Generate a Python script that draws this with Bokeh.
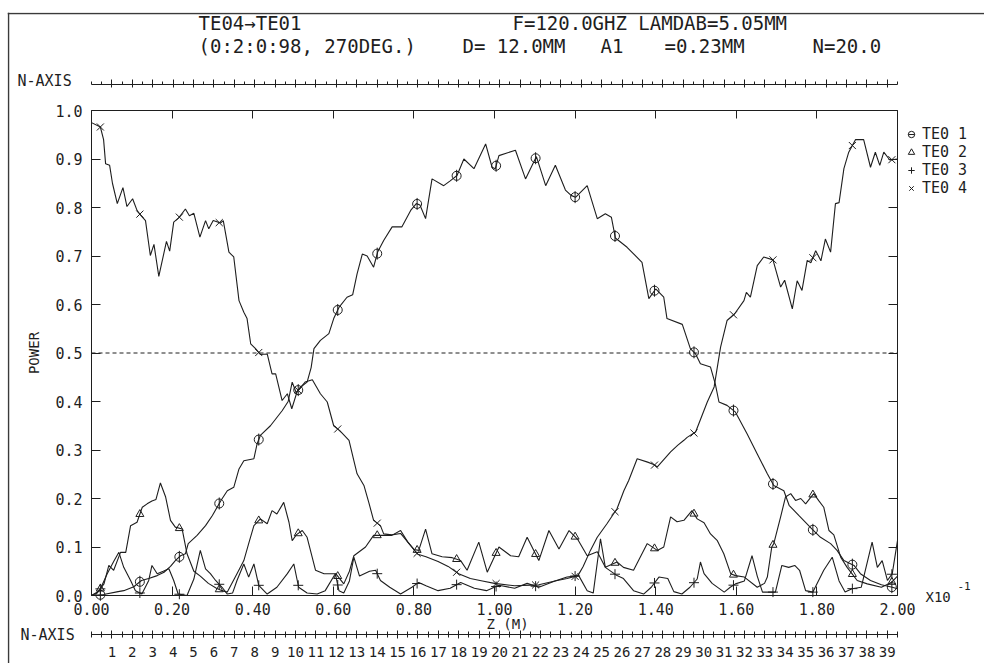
import numpy as np
from bokeh.plotting import figure
from bokeh.models import (LinearAxis, Range1d, FixedTicker, PrintfTickFormatter, Label,
                          Legend, LegendItem, Span)
from bokeh.embed import file_html
from bokeh.resources import INLINE

FONT = "DejaVu Sans Mono"
INK = "#1e1e1e"

# ---------------- data ----------------
te01_z = [0.000,0.030,0.066,0.080,0.105,0.124,0.142,0.163,0.180,0.196,
          0.208,0.221,0.233,0.240,0.262,0.283,0.300,0.322,0.337,0.353,
          0.366,0.378,0.403,0.411,0.419,0.444,0.473,0.488,0.498,0.508,
          0.519,0.535,0.545,0.552,0.568,0.589,0.601,0.614,0.634,0.648,
          0.659,0.672,0.684,0.700,0.710,0.725,0.746,0.770,0.792,0.806,
          0.815,0.829,0.845,0.874,0.890,0.907,0.924,0.949,0.978,0.994,
          1.002,1.011,1.052,1.077,1.104,1.127,1.151,1.176,1.190,1.201,
          1.230,1.255,1.275,1.290,1.300,1.329,1.366,1.383,1.400,1.420,
          1.428,1.466,1.486,1.499,1.511,1.536,1.548,1.557,1.577,1.598,
          1.627,1.652,1.677,1.693,1.718,1.731,1.755,1.788,1.809,1.834,
          1.850,1.867,1.892,1.908,1.933,1.960,1.987,2.000]
te01_p = [0.000,0.002,0.008,0.010,0.018,0.031,0.035,0.041,0.048,0.060,
          0.072,0.082,0.086,0.107,0.124,0.144,0.165,0.197,0.216,0.223,
          0.261,0.278,0.282,0.313,0.330,0.350,0.381,0.400,0.440,0.418,
          0.430,0.440,0.470,0.509,0.526,0.540,0.571,0.594,0.615,0.620,
          0.663,0.704,0.700,0.677,0.708,0.732,0.760,0.760,0.794,0.808,
          0.805,0.777,0.859,0.845,0.855,0.866,0.900,0.880,0.931,0.883,
          0.880,0.907,0.918,0.859,0.905,0.845,0.887,0.836,0.825,0.821,
          0.845,0.777,0.787,0.780,0.737,0.718,0.687,0.612,0.632,0.615,
          0.571,0.559,0.509,0.498,0.478,0.471,0.436,0.399,0.392,0.378,
          0.333,0.292,0.251,0.227,0.216,0.186,0.165,0.137,0.120,0.107,
          0.093,0.072,0.062,0.045,0.031,0.022,0.017,0.014]

te02_z = [0.000,0.014,0.022,0.031,0.043,0.055,0.072,0.085,0.097,0.113,
          0.126,0.138,0.150,0.160,0.171,0.184,0.196,0.208,0.225,0.237,
          0.254,0.270,0.290,0.310,0.324,0.337,0.361,0.378,0.390,0.403,
          0.419,0.436,0.448,0.460,0.477,0.490,0.498,0.508,0.523,0.535,
          0.556,0.577,0.606,0.626,0.640,0.651,0.680,0.700,0.717,0.745,
          0.767,0.785,0.800,0.812,0.829,0.845,0.870,0.895,0.916,0.932,
          0.961,0.982,1.011,1.040,1.060,1.081,1.110,1.135,1.160,1.185,
          1.207,1.230,1.255,1.275,1.304,1.320,1.345,1.379,1.404,1.420,
          1.437,1.453,1.470,1.490,1.503,1.520,1.536,1.553,1.569,1.586,
          1.598,1.620,1.652,1.670,1.677,1.688,1.693,1.710,1.722,1.735,
          1.747,1.760,1.772,1.792,1.805,1.817,1.830,1.842,1.859,1.875,
          1.887,1.900,1.925,1.960,1.985,2.000]
te02_p = [0.000,0.005,0.014,0.024,0.062,0.052,0.089,0.089,0.144,0.151,
          0.182,0.189,0.195,0.198,0.232,0.203,0.155,0.141,0.137,0.086,
          0.050,0.040,0.025,0.015,0.010,0.007,0.045,0.072,0.107,0.144,
          0.158,0.148,0.175,0.168,0.192,0.151,0.113,0.125,0.134,0.120,
          0.052,0.045,0.045,0.024,0.050,0.082,0.100,0.124,0.124,0.124,
          0.134,0.110,0.095,0.093,0.137,0.086,0.080,0.078,0.072,0.052,
          0.110,0.048,0.100,0.082,0.080,0.120,0.072,0.134,0.096,0.134,
          0.115,0.082,0.090,0.058,0.069,0.058,0.052,0.107,0.093,0.100,
          0.162,0.152,0.155,0.175,0.158,0.150,0.127,0.113,0.086,0.045,
          0.041,0.038,0.017,0.025,0.038,0.100,0.107,0.162,0.203,0.210,
          0.196,0.200,0.189,0.210,0.195,0.182,0.134,0.125,0.079,0.058,
          0.045,0.031,0.024,0.017,0.027,0.040]

te03_z = [0.000,0.020,0.039,0.055,0.068,0.080,0.097,0.109,0.125,0.142,
          0.150,0.163,0.178,0.192,0.204,0.215,0.237,0.254,0.270,0.283,
          0.295,0.308,0.324,0.337,0.350,0.361,0.378,0.390,0.403,0.415,
          0.436,0.460,0.486,0.502,0.514,0.535,0.560,0.580,0.605,0.614,
          0.626,0.640,0.651,0.665,0.690,0.705,0.717,0.740,0.767,0.795,
          0.812,0.830,0.860,0.890,0.916,0.950,0.980,1.011,1.050,1.081,
          1.110,1.150,1.180,1.209,1.230,1.245,1.263,1.275,1.304,1.320,
          1.345,1.370,1.389,1.408,1.430,1.445,1.465,1.485,1.503,1.511,
          1.520,1.540,1.570,1.585,1.598,1.620,1.639,1.652,1.665,1.697,
          1.713,1.730,1.745,1.757,1.772,1.790,1.817,1.838,1.855,1.870,
          1.887,1.910,1.937,1.950,1.962,1.975,1.987,2.000]
te03_p = [0.000,0.010,0.045,0.070,0.089,0.058,0.031,0.010,0.003,0.031,
          0.062,0.045,0.050,0.055,0.031,0.003,0.000,0.034,0.093,0.055,
          0.045,0.031,0.017,0.003,0.005,0.031,0.065,0.038,0.065,0.021,
          0.003,0.017,0.045,0.065,0.017,0.005,0.003,0.010,0.045,0.010,
          0.005,0.030,0.079,0.040,0.050,0.052,0.031,0.017,0.003,0.017,
          0.027,0.020,0.010,0.015,0.027,0.015,0.010,0.021,0.015,0.025,
          0.017,0.030,0.038,0.041,0.010,0.005,0.117,0.058,0.041,0.035,
          0.010,0.003,0.017,0.038,0.035,0.008,0.003,0.017,0.034,0.069,
          0.045,0.025,0.007,0.017,0.024,0.030,0.082,0.040,0.007,0.007,
          0.062,0.058,0.062,0.052,0.010,0.007,0.052,0.079,0.030,0.007,
          0.014,0.017,0.110,0.058,0.072,0.031,0.045,0.113]

te04_z = [0.000,0.022,0.030,0.035,0.045,0.052,0.064,0.078,0.088,0.102,
          0.113,0.123,0.134,0.146,0.155,0.167,0.186,0.194,0.204,0.217,
          0.233,0.243,0.254,0.269,0.283,0.291,0.302,0.320,0.327,0.341,
          0.353,0.366,0.378,0.386,0.395,0.407,0.419,0.436,0.448,0.457,
          0.473,0.486,0.497,0.510,0.530,0.548,0.568,0.585,0.601,0.616,
          0.639,0.651,0.659,0.676,0.688,0.700,0.717,0.725,0.745,0.767,
          0.790,0.810,0.830,0.860,0.885,0.911,0.940,0.970,1.000,1.050,
          1.110,1.150,1.180,1.207,1.220,1.238,1.255,1.279,1.304,1.321,
          1.333,1.354,1.380,1.395,1.404,1.420,1.437,1.455,1.470,1.478,
          1.499,1.528,1.545,1.561,1.577,1.596,1.619,1.625,1.635,1.652,
          1.668,1.691,1.710,1.720,1.739,1.751,1.763,1.776,1.785,1.797,
          1.810,1.821,1.834,1.846,1.855,1.867,1.879,1.896,1.916,1.933,
          1.945,1.956,1.966,1.981,2.000]
te04_p = [0.975,0.966,0.940,0.890,0.887,0.850,0.808,0.841,0.802,0.818,
          0.794,0.783,0.773,0.701,0.724,0.658,0.730,0.710,0.770,0.779,
          0.797,0.783,0.788,0.739,0.773,0.756,0.773,0.768,0.773,0.708,
          0.698,0.608,0.584,0.571,0.519,0.509,0.497,0.498,0.457,0.457,
          0.402,0.416,0.385,0.420,0.440,0.445,0.416,0.399,0.350,0.340,
          0.320,0.278,0.251,0.227,0.192,0.155,0.144,0.127,0.125,0.128,
          0.105,0.085,0.080,0.070,0.060,0.045,0.035,0.030,0.025,0.020,
          0.022,0.030,0.035,0.041,0.060,0.093,0.120,0.148,0.179,0.216,
          0.237,0.282,0.275,0.270,0.265,0.280,0.296,0.310,0.320,0.326,
          0.337,0.399,0.430,0.512,0.567,0.581,0.608,0.625,0.615,0.680,
          0.698,0.692,0.636,0.650,0.591,0.649,0.629,0.691,0.686,0.711,
          0.690,0.735,0.708,0.808,0.810,0.880,0.914,0.940,0.940,0.883,
          0.914,0.887,0.914,0.898,0.900]

# z positions at which the plotter drew the mode symbols
marker_z = [0.022, 0.120, 0.218, 0.317, 0.415, 0.513, 0.611, 0.709, 0.808, 0.906,
            1.004, 1.102, 1.200, 1.299, 1.397, 1.495, 1.593, 1.691, 1.790, 1.888, 1.986]

x_ticks = [0.0, 0.2, 0.4, 0.6, 0.8, 1.0, 1.2, 1.4, 1.6, 1.8, 2.0]
y_ticks = [0.0, 0.1, 0.2, 0.3, 0.4, 0.5, 0.6, 0.7, 0.8, 0.9, 1.0]
n_ticks = list(range(1, 40))
n_minor = [k / 2 for k in range(0, 80)]
n_max = 39.5
half_power = 0.5
series_names = ["TE0 1", "TE0 2", "TE0 3", "TE0 4"]

# ---------------- page geometry (canvas pixels) ----------------
W, H = 984, 663
FL, FT = 7, 12                      # frame (paper) origin
PL, PR, PT, PB = 91, 897, 110, 595  # plotting box of the original chart
N_TOP_Y, N_BOT_Y = 84, 634          # rulers of the N axes

z_per_px = (x_ticks[-1] - x_ticks[0]) / (PR - PL)
p_per_px = (y_ticks[-1] - y_ticks[0]) / (PB - PT)
n_per_px = n_max / (PR - PL)


def zx(px):
    return x_ticks[0] + (px - PL) * z_per_px


def py(px):
    return y_ticks[0] + (PB - px) * p_per_px


p = figure(width=W, height=H,
           x_range=Range1d(zx(FL), zx(W)), y_range=Range1d(py(H), py(FT)),
           x_axis_location=None, y_axis_location=None, toolbar_location=None,
           output_backend="svg", min_border_left=FL, min_border_right=0,
           min_border_top=FT, min_border_bottom=0)
p.extra_x_ranges = {"n": Range1d((FL - PL) * n_per_px, (W - PL) * n_per_px)}
p.grid.visible = False
p.outline_line_color = None
p.background_fill_color = "white"
p.border_fill_color = "white"


def style(ax, size="15px"):
    ax.axis_line_color = INK
    ax.axis_line_width = 1
    ax.major_tick_line_color = INK
    ax.minor_tick_line_color = None
    ax.major_label_text_font = FONT
    ax.major_label_text_color = INK
    ax.major_label_text_font_size = size
    ax.axis_label_text_font = FONT
    ax.axis_label_text_font_style = "normal"
    ax.axis_label_text_color = INK


# bottom: z axis (its title "Z (M)" is placed below as a label)
xb = LinearAxis(ticker=FixedTicker(ticks=x_ticks), formatter=PrintfTickFormatter(format="%.2f"),
                fixed_location=y_ticks[0], bounds=(x_ticks[0], x_ticks[-1]))
style(xb)
xb.major_tick_in = 9
xb.major_tick_out = 0
xb.major_label_standoff = 7
p.add_layout(xb, "below")

# bottom: N axis
nb = LinearAxis(x_range_name="n", ticker=FixedTicker(ticks=n_ticks, minor_ticks=n_minor),
                fixed_location=py(N_BOT_Y), bounds=(0, n_max))
style(nb, "14px")
nb.major_tick_in = 4
nb.major_tick_out = 4
nb.minor_tick_line_color = INK
nb.minor_tick_in = 3
nb.minor_tick_out = 3
nb.major_label_standoff = 8
p.add_layout(nb, "below")

# left: power
yl = LinearAxis(ticker=FixedTicker(ticks=y_ticks), formatter=PrintfTickFormatter(format="%.1f"),
                axis_label="POWER", fixed_location=x_ticks[0], bounds=(y_ticks[0], y_ticks[-1]))
style(yl)
yl.major_tick_in = 9
yl.major_tick_out = 0
yl.major_label_standoff = 9
yl.axis_label_text_font_size = "14px"
yl.axis_label_standoff = 10
p.add_layout(yl, "left")

# right: ticks only
yr = LinearAxis(ticker=FixedTicker(ticks=y_ticks), fixed_location=x_ticks[-1],
                bounds=(y_ticks[0], y_ticks[-1]))
style(yr)
yr.major_tick_in = 9
yr.major_tick_out = 0
yr.major_label_text_color = None
yr.major_label_text_font_size = "0px"
p.add_layout(yr, "right")

# top: ticks only
xt = LinearAxis(ticker=FixedTicker(ticks=x_ticks), fixed_location=y_ticks[-1],
                bounds=(x_ticks[0], x_ticks[-1]))
style(xt)
xt.major_tick_in = 8
xt.major_tick_out = 0
xt.major_label_text_color = None
xt.major_label_text_font_size = "0px"
p.add_layout(xt, "above")

# top: N axis ruler
nt = LinearAxis(x_range_name="n", ticker=FixedTicker(ticks=n_ticks, minor_ticks=n_minor),
                fixed_location=py(N_TOP_Y), bounds=(0, n_max))
style(nt)
nt.major_tick_in = 3
nt.major_tick_out = 5
nt.minor_tick_line_color = INK
nt.minor_tick_in = 0
nt.minor_tick_out = 3
nt.major_label_text_color = None
nt.major_label_text_font_size = "0px"
p.add_layout(nt, "above")

# 0.5 reference line across the plotting box
p.line([x_ticks[0], x_ticks[-1]], [half_power, half_power], line_color=INK, line_width=1,
       line_dash="4 3")

# curves
curves = [(te01_z, te01_p), (te02_z, te02_p), (te03_z, te03_p), (te04_z, te04_p)]
for zz, pp in curves:
    p.line(zz, pp, line_color=INK, line_width=1.1)

mz = np.array(marker_z)
m1 = np.interp(mz, te01_z, te01_p)
m2 = np.interp(mz, te02_z, te02_p)
m3 = np.interp(mz, te03_z, te03_p)
m4 = np.interp(mz, te04_z, te04_p)

r1a = p.scatter(mz, m1, marker="circle", size=9, fill_color=None, line_color=INK, line_width=1)
r1b = p.scatter(mz, m1, marker="dash", size=12, angle=np.pi / 2, line_color=INK, line_width=1)
r2 = p.scatter(mz, m2, marker="triangle", size=8, fill_color=None, line_color=INK, line_width=1)
r3 = p.scatter(mz, m3, marker="cross", size=10, line_color=INK, line_width=1)
r4 = p.scatter(mz, m4, marker="x", size=10, line_color=INK, line_width=1)

# legend: rows 16 px apart
GLYPH, ROW = 16, 16
LEG_CX, LEG_FIRST = 911, 141
leg_top = LEG_FIRST - ROW // 2
leg_h = 4 * ROW
legend = Legend(items=[LegendItem(label=series_names[0], renderers=[r1a, r1b]),
                       LegendItem(label=series_names[1], renderers=[r2]),
                       LegendItem(label=series_names[2], renderers=[r3]),
                       LegendItem(label=series_names[3], renderers=[r4])],
                location=(LEG_CX - GLYPH // 2 - FL, H - (leg_top + leg_h)),
                padding=0, margin=0, spacing=0,
                label_height=ROW, glyph_height=GLYPH, glyph_width=GLYPH, label_standoff=3,
                label_text_font=FONT, label_text_font_size="15px", label_text_color=INK,
                border_line_color=None, background_fill_alpha=0)
p.add_layout(legend, "center")


# ---------------- texts (frame-relative screen units) ----------------
def txt(text, cx, cy, size="19px", align="left"):
    p.add_layout(Label(x=cx - FL, y=H - cy, x_units="screen", y_units="screen", text=text,
                       text_font=FONT, text_font_size=size, text_color=INK,
                       text_align=align, text_baseline="middle"))


txt("TE04\u2192TE01", 198, 22)
txt("F=120.0GHZ LAMDAB=5.05MM", 512, 22)
txt("(0:2:0:98, 270DEG.)", 198, 45)
txt("D= 12.0MM", 462, 45)
txt("A1", 600, 45)
txt("=0.23MM", 664, 45)
txt("N=20.0", 812, 45)
txt("N-AXIS", 17, 80, "15px")
txt("N-AXIS", 20, 634, "15px")
txt("Z (M)", 486, 623, "14px")
txt("X10", 925, 596, "14px")
txt("-1", 957, 585, "11px")

# edges of the original plot sheet (left and top)
p.add_layout(Span(location=1, location_units="screen", dimension="height",
                  line_color="#3a3a3a", line_width=1.5))
p.add_layout(Span(location=H - FT - 1, location_units="screen", dimension="width",
                  line_color="#3a3a3a", line_width=1.5))

open("out.html", "w").write(file_html(p, INLINE))
